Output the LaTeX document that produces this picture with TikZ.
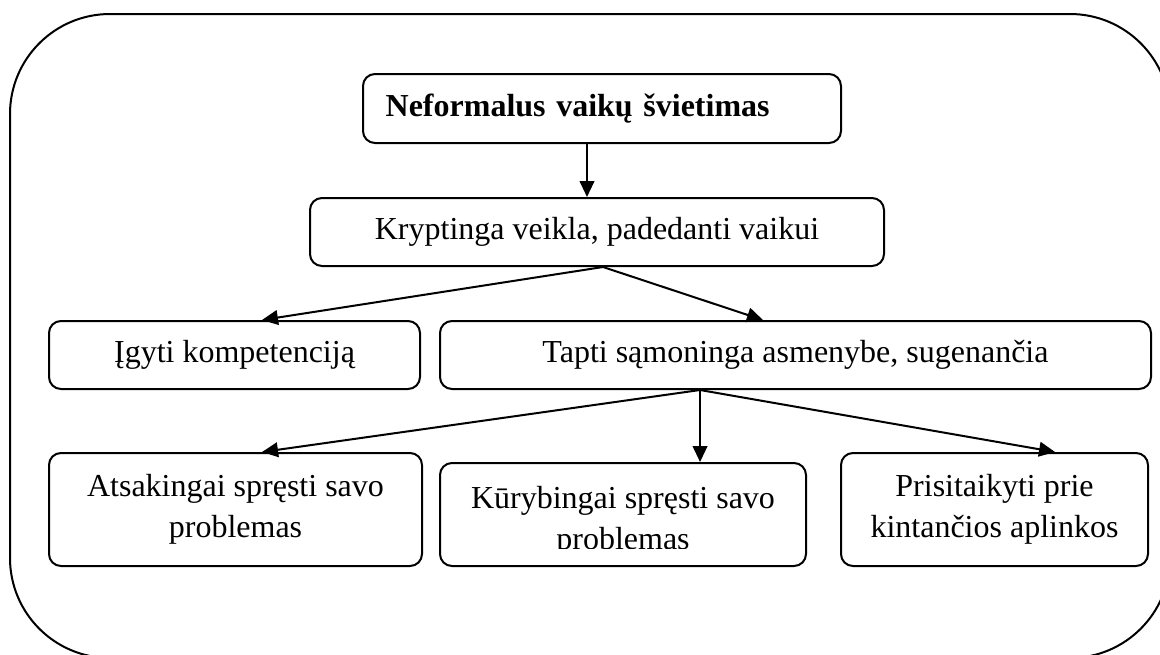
\documentclass[tikz,border=0pt]{standalone}
\usepackage{fontspec}
\setmainfont{Liberation Serif}
\usetikzlibrary{arrows.meta}

\tikzset{
  box/.style={draw, line width=1.5pt, rounded corners=9pt, inner sep=0pt,
              align=center, font=\fontsize{24pt}{30.75pt}\selectfont},
  arr/.style={line width=1.5pt, -{Triangle[length=12pt, width=11pt]}},
  lbl/.style={inner sep=0pt, anchor=base, font=\fontsize{24pt}{30.75pt}\selectfont}
}

\begin{document}
\begin{tikzpicture}[x=0.75pt, y=-0.75pt]
  \useasboundingbox (0,0) rectangle (1160,654);
  \begin{scope}
    \clip (0,0) rectangle (1160,654);
    % outer frame
    \draw[line width=1.5pt, rounded corners=75pt] (10,14) rectangle (1170,658);
  \end{scope}

  % boxes
  \node[box, minimum width=358.5pt, minimum height=51.75pt, text width=324.5pt,
        align=left, inner xsep=17pt, font=\fontsize{24pt}{30.75pt}\selectfont\bfseries]
        (b1) at (602,108.5) {Neformalus vaikų švietimas};
  \node[box, minimum width=430.5pt, minimum height=51pt] (b2) at (597,232)
        {Kryptinga veikla, padedanti vaikui};
  \node[box, minimum width=278.25pt, minimum height=51pt] (b3a) at (234.5,355)
        {Įgyti kompetenciją};
  \node[box, minimum width=533.25pt, minimum height=51pt] (b3b) at (795.5,355)
        {Tapti sąmoninga asmenybe, sugenančia};
  \node[box, minimum width=279.75pt, minimum height=84.75pt] (b4a) at (235.5,509.5)
        {Atsakingai spręsti savo\\problemas};
  \node[box, minimum width=274.5pt, minimum height=77.25pt] (b4b) at (623,514.5) {};
  \node[box, minimum width=230.25pt, minimum height=84.75pt] (b4c) at (994.5,509.5)
        {Prisitaikyti prie\\kintančios aplinkos};

  % text of the middle lower box, cut off at its lower line
  \begin{scope}
    \clip (440,463) rectangle (806,548);
    \node[lbl] (t4b1) at (623,508) {Kūrybingai spręsti savo};
    \node[lbl] (t4b2) at (623,549) {problemas};
  \end{scope}

  % connectors
  \draw[arr] ([xshift=-11.25pt]b1.south) -- ([xshift=-11.25pt]b1.south |- b2.north);
  \draw[arr] ([xshift=4.5pt]b2.south) -- ([xshift=20.6pt]b3a.north);
  \draw[arr] ([xshift=4.5pt]b2.south) -- ([xshift=-24.4pt]b3b.north);
  \draw[arr] ([xshift=-71.6pt]b3b.south) -- ([xshift=19.9pt]b4a.north);
  \draw[arr] ([xshift=-71.6pt]b3b.south) -- ([xshift=-71.6pt]b3b.south |- b4b.north);
  \draw[arr] ([xshift=-71.6pt]b3b.south) -- ([xshift=45.4pt]b4c.north);
\end{tikzpicture}
\end{document}
